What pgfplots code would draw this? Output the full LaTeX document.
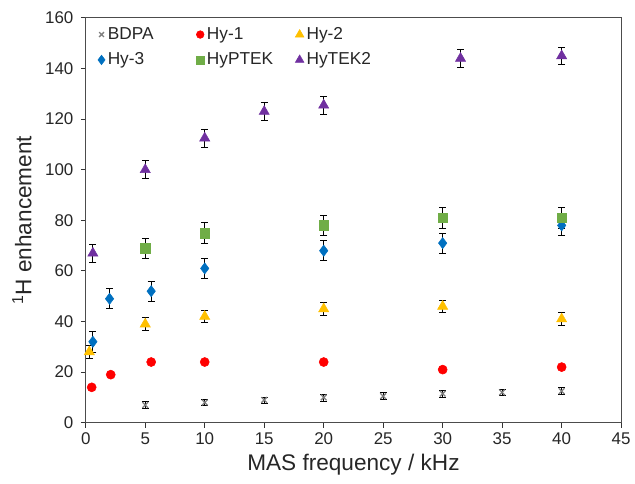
\documentclass[border=0pt]{standalone}
\usepackage{fontspec}
\setmainfont{Liberation Sans}
\usepackage{pgfplots}
\pgfplotsset{compat=1.18}

\definecolor{cBDPA}{RGB}{127,127,127}
\definecolor{cHyone}{RGB}{255,0,0}
\definecolor{cHytwo}{RGB}{255,192,0}
\definecolor{cHythree}{RGB}{0,112,192}
\definecolor{cPTEK}{RGB}{112,173,71}
\definecolor{cTEK}{RGB}{112,48,160}

% x  y  err
\pgfplotstableread{
x y e
5 7 1.3
10 8 1.3
15 9 1.2
20 10 1.4
25 10.5 1.3
30 11.5 1.3
35 12 1.2
40 12.5 1.3
}\bdpa
\pgfplotstableread{
x y e
0.5 14 0.8
2.1 19 0.8
5.5 24 0.8
10 24 0.8
20 24 0.8
30 21 0.8
40 22 0.8
}\hyone
\pgfplotstableread{
x y e
0.3 28 2.5
5 39 2.5
10 42 2.5
20 45 2.5
30 46 2.5
40 41 2.5
}\hytwo
\pgfplotstableread{
x y e
0.6 32 4
2 49 4
5.5 52 4
10 61 4
20 68 4
30 71 4
40 78 4
}\hythree
\pgfplotstableread{
x y e
5 69 4
10 75 4
20 78 4
30 81 4
40 81 4
}\hyptek
\pgfplotstableread{
x y e
0.6 67 3.5
5 100 3.5
10 112.5 3.5
15 123 3.5
20 125.5 3.5
31.5 144 3.5
40 145 3.5
}\hytek

\newcommand{\lt}[1]{\makebox[64.5pt][l]{#1}}

\begin{document}
\begin{tikzpicture}
\begin{axis}[
  width=402.75pt, height=304.5pt, scale only axis,
  xmin=0, xmax=45, ymin=0, ymax=160,
  xtick distance=5, ytick distance=20,
  tick align=outside, tick pos=left, major tick length=3.75pt,
  axis line style={black!70, line width=0.75pt},
  tick style={black!80, line width=0.75pt},
  /pgf/number format/assume math mode=true,
  ticklabel style={font=\fontsize{12.75}{15}\selectfont, text=black!85},
  yticklabel style={xshift=-2pt},
  xlabel={MAS frequency / kHz},
  ylabel={\textsuperscript{1}H enhancement},
  label style={font=\fontsize{17}{20}\selectfont, text=black!85},
  xlabel style={at={(axis description cs:0.5,0)}, anchor=center, yshift=-31.5pt},
  ylabel style={at={(axis description cs:0,0.5)}, anchor=center, yshift=48pt},
  legend columns=3,
  legend style={at={(axis description cs:0,1)}, anchor=north west,
    xshift=9pt, yshift=-6pt, draw=none, fill=none, inner sep=0pt,
    column sep=0pt, row sep=6.5pt,
    font=\fontsize{13}{15}\selectfont,
    nodes={inner xsep=2pt, inner ysep=1pt, text=black!85}},
  legend image code/.code={\draw[mark repeat=2,mark phase=2, mark options={scale=0.85}]
    plot coordinates {(0pt,0pt)(4pt,0pt)(8pt,0pt)};},
  error bars/y dir=both, error bars/y explicit,
  error bars/error bar style={black, line width=0.6pt},
  error bars/error mark options={rotate=90, black, mark size=2.6pt, line width=0.6pt},
]
\addplot[only marks, mark=x, mark size=3pt, cBDPA, line width=1pt]
  table[x=x, y=y, y error=e] {\bdpa};
\addlegendentry{\lt{BDPA}}
\addplot[only marks, mark=*, mark size=3.4pt, cHyone, mark options={fill=cHyone, draw=cHyone},
  error bars/y dir=none]
  table[x=x, y=y, y error=e] {\hyone};
\addlegendentry{\lt{Hy-1}}
\addplot[only marks, mark=triangle*, mark size=4.4pt, cHytwo, mark options={fill=cHytwo, draw=cHytwo}]
  table[x=x, y=y, y error=e] {\hytwo};
\addlegendentry{\lt{Hy-2}}
\addplot[only marks, mark=diamond*, mark size=4.2pt, cHythree, mark options={fill=cHythree, draw=cHythree}]
  table[x=x, y=y, y error=e] {\hythree};
\addlegendentry{\lt{Hy-3}}
\addplot[only marks, mark=square*, mark size=3.6pt, cPTEK, mark options={fill=cPTEK, draw=cPTEK}]
  table[x=x, y=y, y error=e] {\hyptek};
\addlegendentry{\lt{HyPTEK}}
\addplot[only marks, mark=triangle*, mark size=4.4pt, cTEK, mark options={fill=cTEK, draw=cTEK}]
  table[x=x, y=y, y error=e] {\hytek};
\addlegendentry{\lt{HyTEK2}}
\end{axis}
\path ([xshift=-64.5pt,yshift=-45.75pt]current axis.south west)
      ([xshift=9pt,yshift=13.5pt]current axis.north east);
\end{tikzpicture}
\end{document}
